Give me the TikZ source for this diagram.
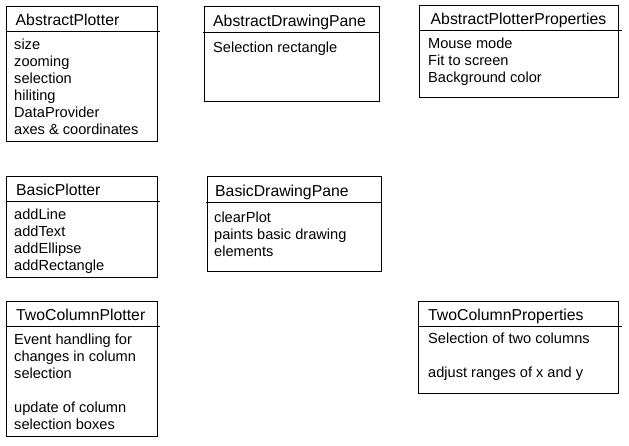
\documentclass[tikz,border=0pt]{standalone}
\usepackage{fontspec}
\setmainfont{Liberation Sans}
\begin{document}
\begin{tikzpicture}[x=1pt,y=-1pt,
  box/.style={draw=black,line width=1pt,anchor=north west,inner sep=0pt,outer sep=0pt},
  divider/.style={draw=black,line width=1pt},
  ttl/.style={anchor=base west,inner sep=0pt,font=\fontsize{15.8}{18}\selectfont},
  bdy/.style={anchor=base west,inner sep=0pt,font=\fontsize{14.6}{17}\selectfont}]
\useasboundingbox (0,0) rectangle (629,446);
\fill[white] (0,0) rectangle (629,446);

% AbstractPlotter
\node[box,minimum width=151pt,minimum height=135pt] (ap) at (6.5,6.5) {};
\coordinate (apd1) at (6.5,31.5); \coordinate (apd2) at (159.5,31.5);
\draw[divider] (apd1) -- (apd2);
\node[ttl] (apt) at (15.5,25.5) {AbstractPlotter};
\node[bdy] (ap1) at (14,50) {size};
\node[bdy] (ap2) at (14,67) {zooming};
\node[bdy] (ap3) at (14,84) {selection};
\node[bdy] (ap4) at (14,101) {hiliting};
\node[bdy] (ap5) at (14,118) {DataProvider};
\node[bdy] (ap6) at (14,135) {axes \& coordinates};

% AbstractDrawingPane
\node[box,minimum width=175pt,minimum height=95pt] (adp) at (204.5,6.5) {};
\coordinate (adpd1) at (202.5,32.5); \coordinate (adpd2) at (379.5,32.5);
\draw[divider] (adpd1) -- (adpd2);
\node[ttl] (adpt) at (213,26.5) {AbstractDrawingPane};
\node[bdy] (adp1) at (213,52.5) {Selection rectangle};

% AbstractPlotterProperties
\node[box,minimum width=199pt,minimum height=92pt] (app) at (419.5,5.5) {};
\coordinate (appd1) at (419.5,30.5); \coordinate (appd2) at (621.5,30.5);
\draw[divider] (appd1) -- (appd2);
\node[ttl] (appt) at (430.5,24.5) {AbstractPlotterProperties};
\node[bdy] (app1) at (428,48.5) {Mouse mode};
\node[bdy] (app2) at (428,65.5) {Fit to screen};
\node[bdy] (app3) at (428,82.5) {Background color};

% BasicPlotter
\node[box,minimum width=151pt,minimum height=101pt] (bp) at (6.5,176.5) {};
\coordinate (bpd1) at (6.5,201.5); \coordinate (bpd2) at (159.5,201.5);
\draw[divider] (bpd1) -- (bpd2);
\node[ttl] (bpt) at (16,195.5) {BasicPlotter};
\node[bdy] (bp1) at (14,219.5) {addLine};
\node[bdy] (bp2) at (14,236.5) {addText};
\node[bdy] (bp3) at (14,253.5) {addEllipse};
\node[bdy] (bp4) at (14,270.5) {addRectangle};

% BasicDrawingPane
\node[box,minimum width=174pt,minimum height=95pt] (bdp) at (207.5,176.5) {};
\coordinate (bdpd1) at (205.5,202.5); \coordinate (bdpd2) at (380.5,202.5);
\draw[divider] (bdpd1) -- (bdpd2);
\node[ttl] (bdpt) at (215,196.5) {BasicDrawingPane};
\node[bdy] (bdp1) at (214,222.5) {clearPlot};
\node[bdy] (bdp2) at (214,239.5) {paints basic drawing};
\node[bdy] (bdp3) at (214,256.5) {elements};

% TwoColumnPlotter
\node[box,minimum width=151pt,minimum height=135pt] (tcp) at (6.5,301.5) {};
\coordinate (tcpd1) at (6.5,326.5); \coordinate (tcpd2) at (159.5,326.5);
\draw[divider] (tcpd1) -- (tcpd2);
\node[ttl] (tcpt) at (16,320.5) {TwoColumnPlotter};
\node[bdy] (tcp1) at (14,344.5) {Event handling for};
\node[bdy] (tcp2) at (14,361.5) {changes in column};
\node[bdy] (tcp3) at (14,378.5) {selection};
\node[bdy] (tcp4) at (14,412.5) {update of column};
\node[bdy] (tcp5) at (14,429.5) {selection boxes};

% TwoColumnProperties
\node[box,minimum width=200pt,minimum height=92pt] (tcpr) at (418.5,301.5) {};
\coordinate (tcprd1) at (418.5,326.5); \coordinate (tcprd2) at (621.5,326.5);
\draw[divider] (tcprd1) -- (tcprd2);
\node[ttl] (tcprt) at (428,320.5) {TwoColumnProperties};
\node[bdy] (tcpr1) at (428,343.5) {Selection of two columns};
\node[bdy] (tcpr2) at (428,377.5) {adjust ranges of x and y};
\end{tikzpicture}
\end{document}
